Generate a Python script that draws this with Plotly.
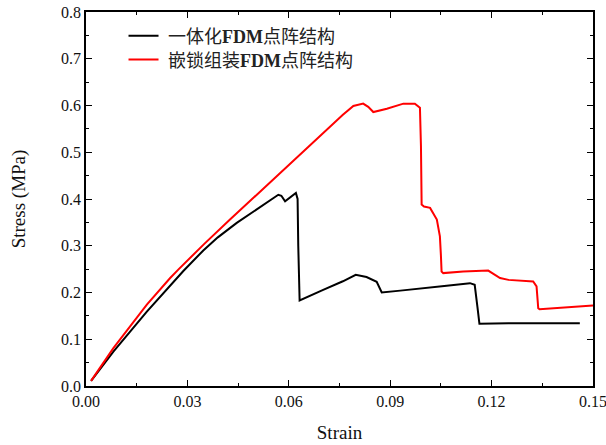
import plotly.graph_objects as go

# Black: integrated FDM lattice
black_strain = [0.0015, 0.0081, 0.018, 0.0249, 0.0288, 0.0347, 0.0390, 0.0446, 0.0490, 0.0525, 0.0569, 0.0578,
                0.0589, 0.0621, 0.0626, 0.0628, 0.0632, 0.0700, 0.0760, 0.0798, 0.0830, 0.0860, 0.0868, 0.0875,
                0.0930, 0.0988, 0.1060, 0.1136, 0.1150, 0.1158, 0.1164, 0.1250, 0.1350, 0.1461]
black_stress = [0.011, 0.0735, 0.159, 0.214, 0.246, 0.290, 0.318, 0.349, 0.371, 0.388, 0.409, 0.407,
                0.395, 0.413, 0.400, 0.300, 0.183, 0.205, 0.224, 0.238, 0.233, 0.223, 0.212, 0.200,
                0.204, 0.209, 0.214, 0.220, 0.2165, 0.170, 0.133, 0.134, 0.134, 0.134]

# Red: interlocking assembled FDM lattice
red_strain = [0.0015, 0.0081, 0.018, 0.0215, 0.0249, 0.0273, 0.0350, 0.0426, 0.0584, 0.0700, 0.0760, 0.0791,
              0.0820, 0.0835, 0.0850, 0.0890, 0.0939, 0.0973, 0.0988, 0.0991, 0.0993, 0.1000, 0.1018, 0.1038,
              0.1047, 0.1050, 0.1052, 0.1057, 0.1116, 0.1190, 0.1225, 0.1250, 0.1323, 0.1333, 0.1338, 0.1342,
              0.1420, 0.1500]
red_stress = [0.011, 0.081, 0.174, 0.204, 0.231, 0.249, 0.304, 0.356, 0.463, 0.540, 0.580, 0.599,
              0.604, 0.597, 0.586, 0.593, 0.604, 0.604, 0.595, 0.513, 0.388, 0.384, 0.381, 0.356,
              0.320, 0.280, 0.245, 0.2415, 0.245, 0.247, 0.231, 0.227, 0.2235, 0.213, 0.1665, 0.164,
              0.168, 0.172]

names = ["\u00a0一体化<b>FDM</b>点阵结构", "\u00a0嵌锁组装<b>FDM</b>点阵结构"]

serif = "Liberation Serif, Times New Roman, serif"
legend_font = "Liberation Serif, Noto Sans CJK SC, serif"

fig = go.Figure()
fig.add_trace(go.Scatter(x=black_strain, y=black_stress, mode="lines", name=names[0],
                         line=dict(color="black", width=2), legend="legend"))
fig.add_trace(go.Scatter(x=red_strain, y=red_stress, mode="lines", name=names[1],
                         line=dict(color="#ff0000", width=2), legend="legend2"))

axis_common = dict(
    showline=True, linecolor="black", linewidth=1.5, mirror="allticks",
    ticks="inside", ticklen=6, tickwidth=1.2, tickcolor="black",
    showgrid=False, zeroline=False, automargin=False, ticklabeloverflow="allow",
    tickfont=dict(family=serif, size=16, color="#111"),
)

fig.update_xaxes(range=[0, 0.15], dtick=0.03, tick0=0, tickformat=".2f",
                 minor=dict(dtick=0.015, ticks="inside", ticklen=3, tickwidth=1.2, tickcolor="black"),
                 title=dict(text="Strain", font=dict(family=serif, size=19, color="#111"), standoff=17),
                 **axis_common)
fig.update_yaxes(range=[0, 0.8], dtick=0.1, tick0=0, tickformat=".1f",
                 minor=dict(dtick=0.05, ticks="inside", ticklen=3, tickwidth=1.2, tickcolor="black"),
                 title=dict(text="Stress (MPa)", font=dict(family=serif, size=19, color="#111"), standoff=30),
                 **axis_common)

leg_common = dict(xanchor="left", yanchor="middle", bgcolor="rgba(0,0,0,0)", borderwidth=0,
                  font=dict(family=legend_font, size=18, color="#222"))

fig.update_layout(
    width=606, height=445,
    margin=dict(l=86, r=13, t=12, b=59, autoexpand=False),
    paper_bgcolor="white", plot_bgcolor="white",
    legend=dict(x=0.074, y=0.936, **leg_common),
    legend2=dict(x=0.074, y=0.872, **leg_common),
    showlegend=True,
)

fig.write_html("out.html", config={"displayModeBar": False},
               post_script="document.body.style.margin='0';")
